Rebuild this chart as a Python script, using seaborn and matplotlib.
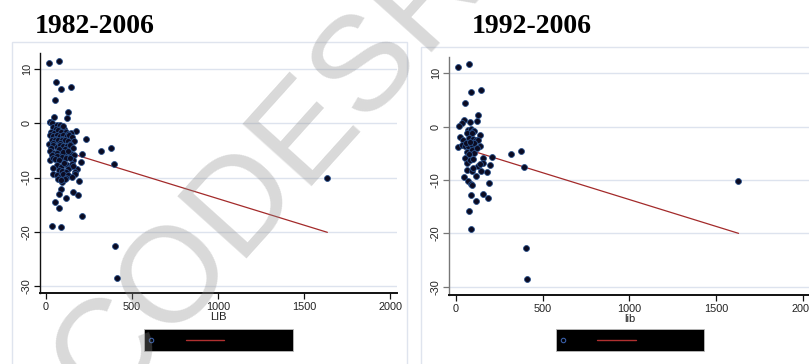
import matplotlib
matplotlib.use("Agg")
import matplotlib.pyplot as plt
import seaborn as sns
import pandas as pd
from matplotlib.patches import Rectangle
from matplotlib.lines import Line2D

# ---------------- data ----------------
titles = ["1982-2006", "1992-2006"]
xlabels = ["LIB", "lib"]
watermark = "CODESRIA"
x_ticks = [0, 500, 1000, 1500, 2000]
y_ticks = [-30, -20, -10, 0, 10]

lib_82 = [19, 79, 60, 91, 147, 54, 130, 126, 48, 25, 234, 319, 379, 398, 211, 203, 184, 195,
          159, 186, 118, 56, 79, 213, 35, 89, 89, 75, 97, 404, 412, 1630,
          25, 35, 41, 64, 83, 93, 108, 60, 100,
          176, 145, 30, 50, 72, 88, 118, 128,
          25, 44, 64, 83, 103, 122, 136, 155, 55, 95,
          19, 35, 54, 73, 93, 112, 128, 164, 45, 85, 140,
          44, 64, 83, 103, 122, 141, 161, 30, 75, 110,
          25, 48, 68, 87, 112, 141, 164, 35, 100, 130,
          25, 44, 68, 93, 118, 161, 55, 80, 140,
          68, 88, 122, 141, 105, 150, 160,
          44, 75, 95, 130, 170, 115,
          44, 64, 83, 103, 132, 172, 150, 120,
          73, 110, 90]
gr_82 = [11.2, 11.5, 7.7, 6.3, 6.7, 4.3, 2.1, 1.0, 1.2, 0.3, -2.8, -5.1, -4.6, -7.5, -5.6, -7.2, -8.5, -10.6,
         -12.6, -13.3, -13.8, -14.5, -15.7, -17.0, -19.0, -19.2, -12.1, -13.0, -10.9, -22.7, -28.5, -10.1,
         0.2, 0.0, -0.7, -0.3, -0.2, -0.7, -1.0, -1.0, -0.5,
         -1.35, -1.7, -1.5, -1.8, -1.2, -1.6, -1.5, -2.0,
         -2.1, -2.4, -2.1, -2.4, -2.1, -2.4, -2.2, -2.5, -2.8, -2.9,
         -3.8, -3.1, -3.1, -3.1, -3.1, -3.1, -3.3, -3.25, -3.7, -3.6, -3.8,
         -4.0, -4.3, -4.0, -4.2, -4.2, -4.0, -4.6, -4.5, -4.8, -4.8,
         -5.1, -5.4, -5.5, -5.8, -5.5, -5.5, -5.8, -5.9, -5.2, -5.0,
         -6.7, -6.4, -6.1, -6.2, -6.4, -6.75, -6.6, -6.8, -6.3,
         -7.7, -8.0, -7.7, -8.0, -7.3, -7.4, -7.9,
         -8.3, -8.6, -8.8, -8.4, -8.9, -8.9,
         -9.3, -9.6, -9.8, -9.3, -9.6, -9.3, -9.9, -10.0,
         -10.3, -10.3, -10.5]

lib_92 = [15, 74, 88, 145, 52, 126, 122, 48, 82, 38, 21,
          72, 88, 101, 107, 65, 92, 141, 25, 44, 76, 101, 115, 130,
          11, 34, 53, 72, 92, 103, 139, 63, 92, 107,
          317, 376, 395, 210, 53, 65, 82, 97, 158, 158, 130, 200,
          65, 95, 145, 179, 46, 115, 72, 88, 92, 193,
          86, 158, 183, 115, 78, 88, 403, 410, 1626,
          60, 85, 120, 75, 100, 140]
gr_92 = [11.25, 11.7, 6.4, 6.9, 4.4, 2.2, 1.1, 1.25, 0.8, 0.6, 0.2,
         -0.6, -0.5, -0.75, -0.9, -1.25, -1.25, -1.6, -2.0, -2.5, -2.2, -2.3, -2.5, -2.6,
         -3.9, -3.4, -3.6, -3.6, -3.4, -3.1, -3.6, -4.7, -4.4, -5.0,
         -5.1, -4.6, -7.6, -5.6, -5.9, -6.75, -6.25, -6.1, -5.9, -6.9, -7.3, -7.25,
         -8.1, -8.3, -8.25, -8.5, -9.4, -9.25, -10.2, -10.75, -11.0, -10.6,
         -12.9, -12.6, -13.4, -13.9, -15.75, -19.25, -22.8, -28.6, -10.2,
         -3.0, -2.8, -4.0, -5.2, -7.8, -7.0]

# fitted-value lines (endpoints at min/max LIB)
fit_x_82 = [10, 1634]
fit_y_82 = [-4.2, -20.1]
fit_x_92 = [15, 1628]
fit_y_92 = [-3.75, -20.0]

# ---------------- style ----------------
sns.set_theme(style="white")
plt.rcParams["font.family"] = ["Liberation Sans Narrow", "Liberation Sans", "DejaVu Sans"]

W, H = 809, 364
fig = plt.figure(figsize=(W / 100, H / 100), dpi=100)
fig.patch.set_facecolor("white")

def fx(px):
    return px / W

def fy(py):
    return 1 - py / H

# panel boxes (behind the axes)
box_col = "#dfe4ee"
fig.patches.append(Rectangle((fx(11.7), fy(380)), fx(406.7 - 11.7), (380 - 42) / H,
                             transform=fig.transFigure, facecolor="white",
                             edgecolor=box_col, lw=1.0, zorder=-5))
fig.patches.append(Rectangle((fx(420.7), fy(380)), fx(420), (380 - 46.7) / H,
                             transform=fig.transFigure, facecolor="white",
                             edgecolor=box_col, lw=1.0, zorder=-5))

panels = [
    dict(x=lib_82, y=gr_82, fx_=fit_x_82, fy_=fit_y_82, pos=(40, 397, 53, 293),
         xlim=(-33, 2038), ylim=(-31.3, 13.0), spine="#111111"),
    dict(x=lib_92, y=gr_92, fx_=fit_x_92, fy_=fit_y_92, pos=(449.3, 811, 56.7, 295),
         xlim=(-37, 2045), ylim=(-31.55, 13.1), spine="#777777"),
]

for i, p in enumerate(panels):
    x0, x1, yt, yb = p["pos"]
    ax = fig.add_axes([fx(x0), fy(yb), (x1 - x0) / W, (yb - yt) / H])
    ax.set_facecolor("none")
    df = pd.DataFrame({"lib": p["x"], "growth": p["y"]})
    sns.scatterplot(data=df, x="lib", y="growth", ax=ax, s=18, color="#0b0b22",
                    edgecolor="#29508a", linewidth=0.6, zorder=3)
    fit = pd.DataFrame({"lib": p["fx_"], "fit": p["fy_"]})
    sns.lineplot(data=fit, x="lib", y="fit", ax=ax, color="#a32a2a", lw=0.9, zorder=2)
    ax.set_xlim(*p["xlim"])
    ax.set_ylim(*p["ylim"])
    ax.set_xticks(x_ticks)
    ax.set_yticks(y_ticks)
    ax.set_xticklabels([str(t) for t in x_ticks])
    ax.set_yticklabels([str(t) for t in y_ticks], rotation=90, va="center")
    for yv in y_ticks:
        ax.axhline(yv, color="#dde3ee", lw=1.0, zorder=1)
    ax.grid(False)
    for s in ["top", "right"]:
        ax.spines[s].set_visible(False)
    ax.spines["left"].set_color(p["spine"])
    ax.spines["left"].set_linewidth(1.0)
    ax.spines["bottom"].set_color("#111111")
    ax.spines["bottom"].set_linewidth(1.4)
    ax.tick_params(axis="both", which="both", direction="out", length=4.5, width=0.9,
                   colors="#111111", labelsize=7.8, pad=2, bottom=True, left=True)
    ax.tick_params(axis="y", colors=p["spine"], labelcolor="#222222", pad=1.5)
    ax.tick_params(axis="x", labelcolor="#222222")
    ax.set_xlabel(xlabels[i], fontsize=8, labelpad=0, color="#222222")
    ax.set_ylabel("")

# titles
fig.text(fx(95), fy(33), titles[0], ha="center", va="baseline", fontsize=20,
         fontweight="bold", family=["Liberation Serif", "DejaVu Serif"], color="black")
fig.text(fx(531.5), fy(33), titles[1], ha="center", va="baseline", fontsize=20,
         fontweight="bold", family=["Liberation Serif", "DejaVu Serif"], color="black")

# legend boxes (Stata-style, black background)
for (lx0, lx1, cx, rx0, rx1) in [(144, 293, 150.7, 186, 224), (556, 704, 562.5, 597, 636)]:
    fig.patches.append(Rectangle((fx(lx0), fy(351)), (lx1 - lx0) / W, 22 / H,
                                 transform=fig.transFigure, facecolor="black",
                                 edgecolor="#bbbbbb", lw=0.6, zorder=5))
    fig.lines.append(Line2D([fx(rx0), fx(rx1)], [fy(340), fy(340)], transform=fig.transFigure,
                            color="#b03030", lw=1.0, zorder=6))
    fig.lines.append(Line2D([fx(cx)], [fy(340)], transform=fig.transFigure, marker="o",
                            markersize=3.2, markerfacecolor="none", markeredgecolor="#3a5fa8",
                            markeredgewidth=0.8, linestyle="none", zorder=6))

# watermark
fig.text(fx(312), fy(126), watermark, ha="center", va="center", rotation=48,
         fontsize=97, family=["Liberation Sans", "DejaVu Sans"], color="#8c8c8c",
         alpha=0.33, zorder=10)

fig.savefig("out.png", dpi=100, facecolor="white")
